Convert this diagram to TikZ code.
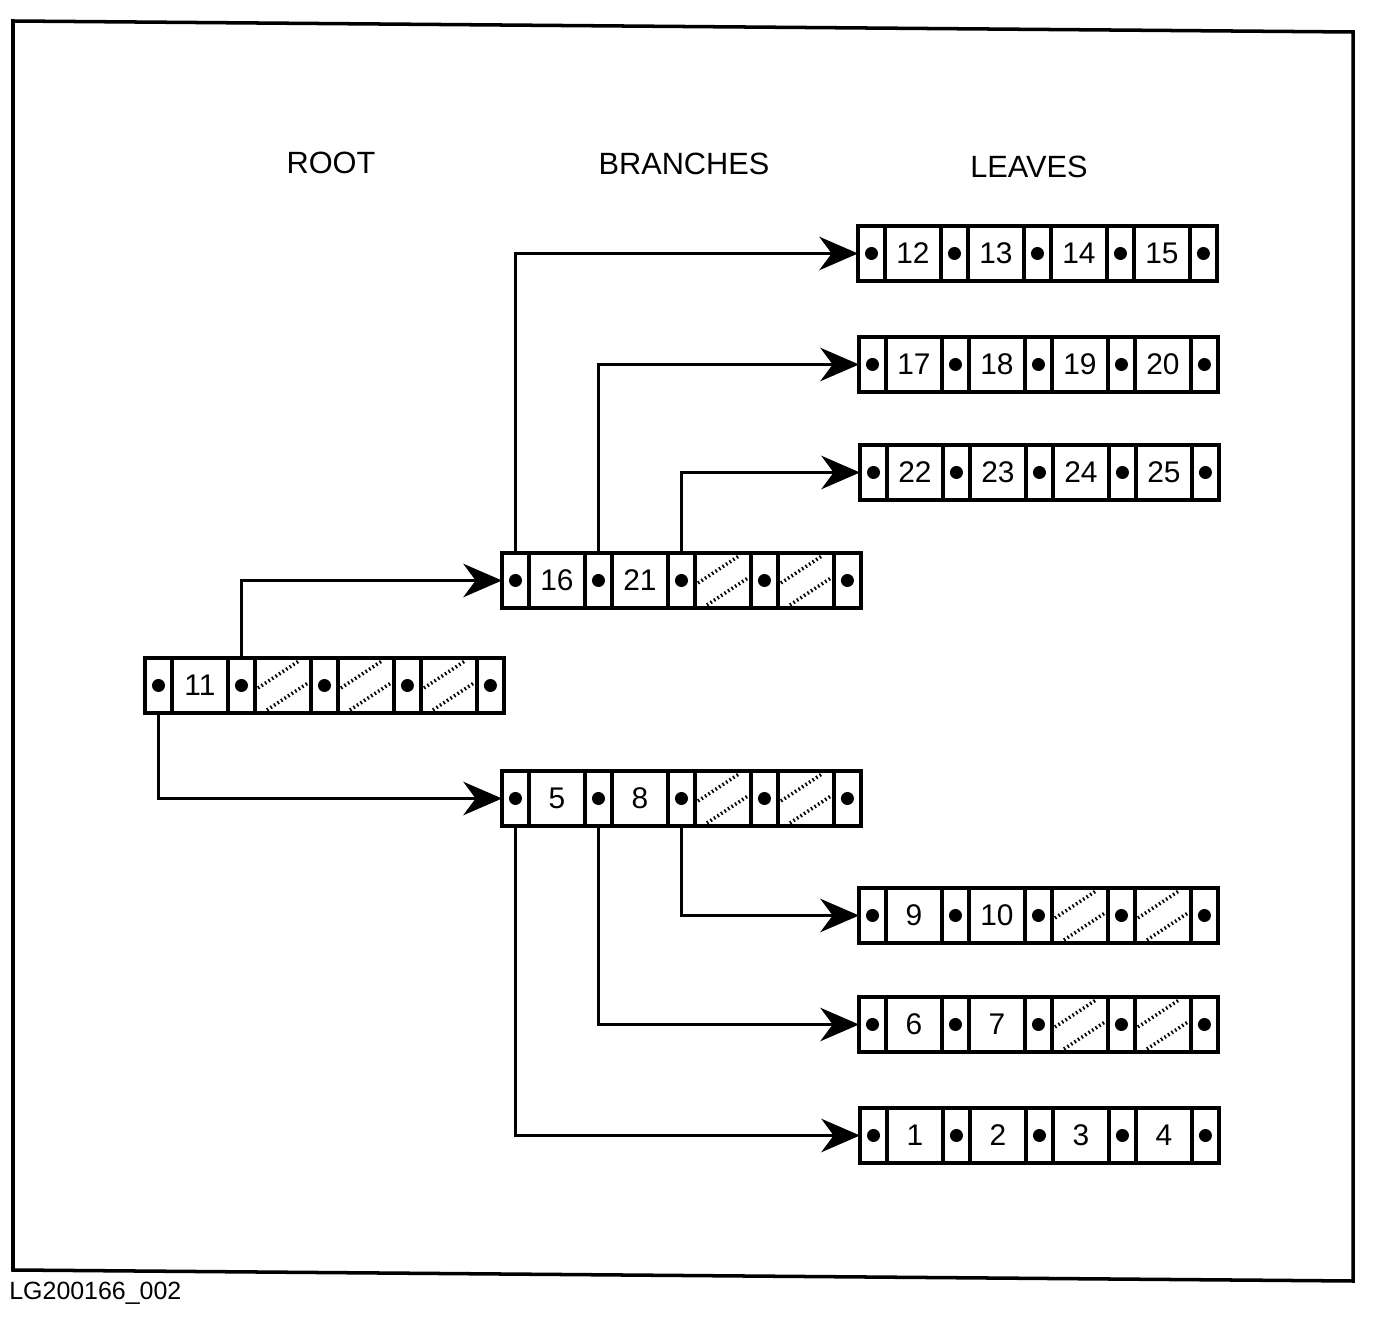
\documentclass[tikz,border=0pt]{standalone}
\usepackage{fontspec}
\setmainfont{Liberation Sans}
\usetikzlibrary{arrows.meta,calc}
\tikzset{
  cellbase/.style={draw, line width=1.9pt, inner sep=0pt, outer sep=0pt, minimum height=1.1cm, fill=white},
  dotcell/.style={cellbase, minimum width=0.54cm},
  valcell/.style={cellbase, minimum width=1.12cm, font=\fontsize{17}{19}\selectfont},
  ptr/.style={line width=1.8pt, -{Stealth[length=22pt, width=19pt, inset=7pt]}},
  title/.style={font=\fontsize{17.5}{20}\selectfont},
  hatchline/.style={line width=2pt, dash pattern=on 0.9pt off 1.5pt},
  frame/.style={line width=2pt}
}
\newcommand{\rec}[7]{%
  \coordinate (#1) at (#2,#3);
  \node[dotcell, anchor=north west] (#1-d0) at (#1) {};
  \node[valcell, anchor=west] (#1-v1) at (#1-d0.east) {#4};
  \node[dotcell, anchor=west] (#1-d1) at (#1-v1.east) {};
  \node[valcell, anchor=west] (#1-v2) at (#1-d1.east) {#5};
  \node[dotcell, anchor=west] (#1-d2) at (#1-v2.east) {};
  \node[valcell, anchor=west] (#1-v3) at (#1-d2.east) {#6};
  \node[dotcell, anchor=west] (#1-d3) at (#1-v3.east) {};
  \node[valcell, anchor=west] (#1-v4) at (#1-d3.east) {#7};
  \node[dotcell, anchor=west] (#1-d4) at (#1-v4.east) {};
  \foreach \k in {0,...,4} {\fill (#1-d\k.center) circle[radius=3.7pt];}
}
\newcommand{\hatch}[1]{%
  \draw[hatchline] ($(#1.north west)+(3,30)$) -- ($(#1.north west)+(44,3)$);
  \draw[hatchline] ($(#1.north west)+(12,52)$) -- ($(#1.north west)+(53,25)$);
}
\begin{document}
\begin{tikzpicture}[x=0.02cm, y=-0.02cm]
\useasboundingbox (0,0) rectangle (1374,1317);
% frame
\coordinate (f1) at (13,21);
\coordinate (f2) at (1353,32);
\coordinate (f3) at (1353,1281);
\coordinate (f4) at (13,1270);
\draw[frame] (f1) -- (f2) -- (f3) -- (f4) -- cycle;
% titles
\node[title] (troot) at (331,163) {ROOT};
\node[title] (tbranch) at (684,164) {BRANCHES};
\node[title] (tleaves) at (1029,167) {LEAVES};
\node[anchor=west, font=\fontsize{14.2}{16}\selectfont, inner sep=0pt] (lg) at (9,1293) {LG200166\_002};
% records
\rec{root}{145}{658}{11}{}{}{}
\hatch{root-v2}\hatch{root-v3}\hatch{root-v4}
\rec{bu}{502}{553}{16}{21}{}{}
\hatch{bu-v3}\hatch{bu-v4}
\rec{bl}{502}{771}{5}{8}{}{}
\hatch{bl-v3}\hatch{bl-v4}
\rec{la}{858}{226}{12}{13}{14}{15}
\rec{lb}{859}{337}{17}{18}{19}{20}
\rec{lc}{860}{445}{22}{23}{24}{25}
\rec{ld}{859}{888}{9}{10}{}{}
\hatch{ld-v3}\hatch{ld-v4}
\rec{le}{859}{997}{6}{7}{}{}
\hatch{le-v3}\hatch{le-v4}
\rec{lf}{860}{1108}{1}{2}{3}{4}
% pointers
\draw[ptr] (root-d1.north) |- (bu-d0.west);
\draw[ptr] (root-d0.south) |- (bl-d0.west);
\draw[ptr] (bu-d0.north) |- (la-d0.west);
\draw[ptr] (bu-d1.north) |- (lb-d0.west);
\draw[ptr] (bu-d2.north) |- (lc-d0.west);
\draw[ptr] (bl-d2.south) |- (ld-d0.west);
\draw[ptr] (bl-d1.south) |- (le-d0.west);
\draw[ptr] (bl-d0.south) |- (lf-d0.west);
\end{tikzpicture}
\end{document}
